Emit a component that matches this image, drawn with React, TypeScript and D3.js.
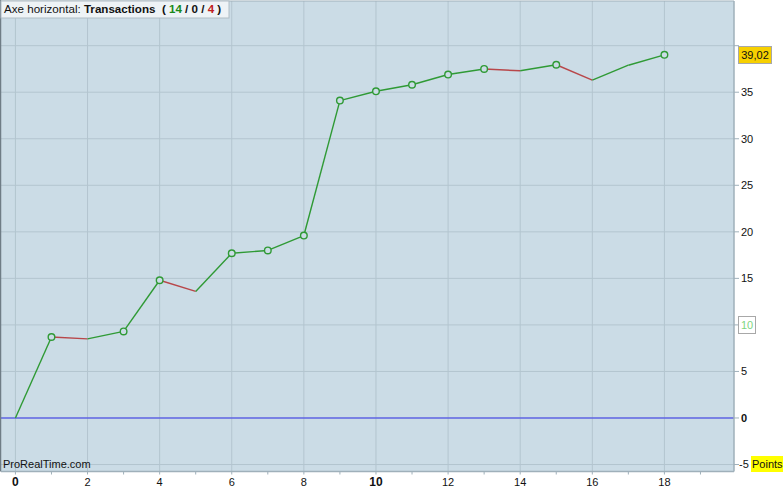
import * as d3 from 'd3';

// equity curve by trade number
const tradeIdx = [0, 1, 2, 3, 4, 5, 6, 7, 8, 9, 10, 11, 12, 13, 14, 15, 16, 17, 18];
const equity = [0, 8.7, 8.5, 9.3, 14.8, 13.6, 17.7, 18.0, 19.6, 34.1, 35.1, 35.8, 36.9, 37.5, 37.3, 37.95, 36.3, 37.9, 39.02];

const xTicks = [0, 2, 4, 6, 8, 10, 12, 14, 16, 18];
const xMinor = d3.range(0, 20);
const yTicks = [-5, 0, 5, 10, 15, 20, 25, 30, 35, 40];
const yLabels = ['-5', '0', '5', '', '15', '20', '25', '30', '35', ''];
const lastLabel = '39,02';
const winCount = 14, flatCount = 0, lossCount = 4;

const W = 783, H = 492;
const BG = '#cbdce6';
const GRID = '#b3c5cf';
const GREEN = '#2f9a35';
const RED = '#b8474a';
const FONT = 'Arial, "Liberation Sans", sans-serif';

export default function App() {
  const x = d3.scaleLinear().domain([-0.4, 19.93]).range([1, 734]);
  const y = d3.scaleLinear().domain([-5.75, 44.8]).range([471.5, 1]);
  const left = 1, right = 734, top = 1, bottom = 471.5;

  const pts = tradeIdx.map((t, i) => ({ t, v: equity[i] }));
  const line = d3.line<{ t: number; v: number }>().x(d => x(d.t)).y(d => y(d.v));

  // circles mark new equity highs
  let runMax = 0;
  const highs = pts.filter((p, i) => {
    if (i === 0) return false;
    if (p.v > runMax) { runMax = p.v; return true; }
    return false;
  });

  return (
    <svg width={W} height={H} style={{ position: 'absolute', left: 0, top: 0, background: '#fff' }} fontFamily={FONT}>
      <rect x={left} y={top} width={right - left} height={bottom - top} fill={BG} />
      {/* grid */}
      {xTicks.map(t => (
        <line key={'vx' + t} x1={x(t)} x2={x(t)} y1={top} y2={bottom} stroke={GRID} strokeWidth={1} />
      ))}
      {yTicks.map(t => (
        <line key={'hy' + t} x1={left} x2={right} y1={y(t)} y2={y(t)} stroke={GRID} strokeWidth={1} />
      ))}
      {/* zero line */}
      <line x1={left} x2={right} y1={y(0)} y2={y(0)} stroke="#3535ee" strokeWidth={1.2} />
      {/* borders */}
      <line x1={0.5} x2={0.5} y1={0} y2={bottom} stroke="#6f7d86" strokeWidth={1.5} />
      <line x1={right} x2={right} y1={top} y2={bottom} stroke="#9fb0ba" strokeWidth={1.5} />
      <line x1={left} x2={right} y1={bottom} y2={bottom} stroke="#9fb0ba" strokeWidth={1.5} />
      <line x1={left} x2={right} y1={top} y2={top} stroke="#9fb0ba" strokeWidth={1} />

      {/* equity segments */}
      {pts.slice(1).map((p, i) => {
        const prev = pts[i];
        return (
          <path key={'s' + i} d={line([prev, p]) || ''} fill="none"
            stroke={p.v < prev.v ? RED : GREEN} strokeWidth={1.4} />
        );
      })}
      {highs.map(p => (
        <circle key={'c' + p.t} cx={x(p.t)} cy={y(p.v)} r={3.3} fill={BG} stroke={GREEN} strokeWidth={1.4} />
      ))}

      {/* right axis */}
      {yTicks.map((t, i) => (
        <g key={'ry' + t}>
          <line x1={right} x2={right + 5} y1={y(t)} y2={y(t)} stroke="#9fb0ba" />
          {yLabels[i] && (
            <text x={t < 0 ? right + 5 : right + 7} y={y(t)} dy="0.35em" fontSize={11}
              fill="#111" fontWeight={t === 0 ? 'bold' : 'normal'}>{yLabels[i]}</text>
          )}
        </g>
      ))}
      <rect x={738.5} y={46.5} width={33} height={17} fill="#f7d000" stroke="#a8a8a8" />
      <text x={755} y={55} dy="0.35em" fontSize={11} textAnchor="middle" fill="#111">{lastLabel}</text>
      <rect x={738.5} y={316.5} width={17} height={17} fill="#fff" stroke="#a8a8a8" />
      <text x={747} y={325} dy="0.35em" fontSize={11} textAnchor="middle" fill="#7ed67e">10</text>
      <rect x={751} y={456} width={32} height={16} fill="#ffff00" />
      <text x={752} y={464} dy="0.35em" fontSize={11} fill="#111">Points</text>

      {/* bottom axis */}
      {xMinor.map(t => (
        <line key={'mx' + t} x1={x(t)} x2={x(t)} y1={bottom} y2={bottom + 3} stroke="#9fb0ba" />
      ))}
      {xTicks.map(t => (
        <text key={'lx' + t} x={x(t)} y={486} textAnchor="middle"
          fontSize={t % 10 === 0 ? 12 : 11} fontWeight={t % 10 === 0 ? 'bold' : 'normal'} fill="#111">{t}</text>
      ))}

      <text x={3} y={468} fontSize={11} fill="#111">ProRealTime.com</text>

      {/* header */}
      <rect x={1} y={1} width={228} height={17} fill="#eef3f6" stroke="#b0bcc4" />
      <text x={4} y={13} fontSize={11.6} fill="#111" style={{ whiteSpace: 'pre' }}>
        <tspan>{'Axe horizontal: '}</tspan>
        <tspan fontWeight="bold">{'Transactions  ( '}</tspan>
        <tspan fontWeight="bold" fill="#1a8a1a">{String(winCount)}</tspan>
        <tspan fontWeight="bold">{' / '}</tspan>
        <tspan fontWeight="bold">{String(flatCount)}</tspan>
        <tspan fontWeight="bold">{' / '}</tspan>
        <tspan fontWeight="bold" fill="#c02020">{String(lossCount)}</tspan>
        <tspan fontWeight="bold">{' )'}</tspan>
      </text>
    </svg>
  );
}
